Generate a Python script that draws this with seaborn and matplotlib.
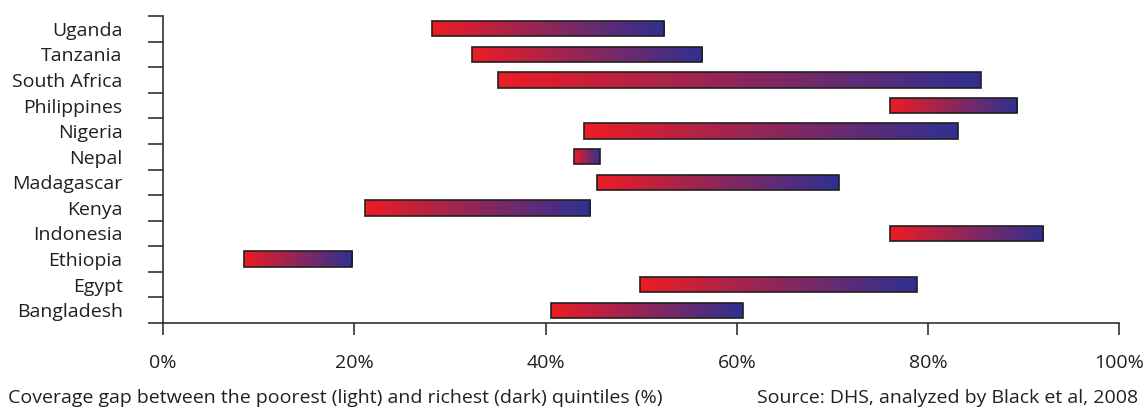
import numpy as np
import matplotlib
matplotlib.use("Agg")
import matplotlib.pyplot as plt
import seaborn as sns
from matplotlib.colors import LinearSegmentedColormap

countries = ["Uganda", "Tanzania", "South Africa", "Philippines", "Nigeria", "Nepal",
             "Madagascar", "Kenya", "Indonesia", "Ethiopia", "Egypt", "Bangladesh"]
poorest = [28.1, 32.3, 35.0, 76.0, 44.0, 43.0, 45.4, 21.1, 76.0, 8.5, 49.9, 40.6]
richest = [52.4, 56.4, 85.5, 89.3, 83.1, 45.7, 70.7, 44.7, 92.0, 19.8, 78.8, 60.6]
x_ticks = [0, 20, 40, 60, 80, 100]

ink = "#231F20"
grad = LinearSegmentedColormap.from_list("poor_rich", ["#ED1C24", "#2E3192"])

sns.set_theme(style="ticks")
plt.rcParams["font.family"] = ["Open Sans", "DejaVu Sans"]

fig = plt.figure(figsize=(11.44, 4.08), dpi=100)
ax = fig.add_axes([0.1425, 0.2083, 0.8359, 0.7525])

sns.barplot(x=richest, y=countries, orient="h", color="white", width=0.6, ax=ax)

# turn the 0-based bars into poorest -> richest ranges with a gradient fill
ramp = np.linspace(0, 1, 256).reshape(1, -1)
for patch, lo, hi in zip(ax.patches, poorest, richest):
    patch.set_x(lo)
    patch.set_width(hi - lo)
    patch.set_facecolor("none")
    patch.set_edgecolor(ink)
    patch.set_linewidth(1.2)
    patch.set_zorder(3)
    y0 = patch.get_y()
    h = patch.get_height()
    im = ax.imshow(ramp, cmap=grad, aspect="auto", extent=[lo, hi, y0 + h, y0],
                   zorder=2, interpolation="bilinear")
    im.set_clip_path(patch)

ax.set_xlim(0, 100)
ax.set_ylim(len(countries) - 0.5, -0.5)
ax.set_xticks(x_ticks)
ax.set_xticklabels([f"{t}%" for t in x_ticks])
ax.set_yticks(np.arange(-0.5, len(countries), 1), minor=True)
ax.tick_params(axis="x", length=8.6, width=1.1, pad=14, labelsize=14, color=ink, labelcolor=ink)
ax.tick_params(axis="y", which="minor", length=10.8, width=1.1, color=ink)
ax.tick_params(axis="y", which="major", length=0, pad=29, labelsize=14, labelcolor=ink)
ax.set_xlabel("")
ax.set_ylabel("")
sns.despine(ax=ax)
for side in ["left", "bottom"]:
    ax.spines[side].set_linewidth(1.1)
    ax.spines[side].set_color(ink)

fig.text(0.007, 0.0245, "Coverage gap between the poorest (light) and richest (dark) quintiles (%)",
         ha="left", va="center", fontsize=14, color=ink)
fig.text(0.995, 0.0245, "Source: DHS, analyzed by Black et al, 2008",
         ha="right", va="center", fontsize=14, color=ink)

fig.savefig("out.png", dpi=100)
